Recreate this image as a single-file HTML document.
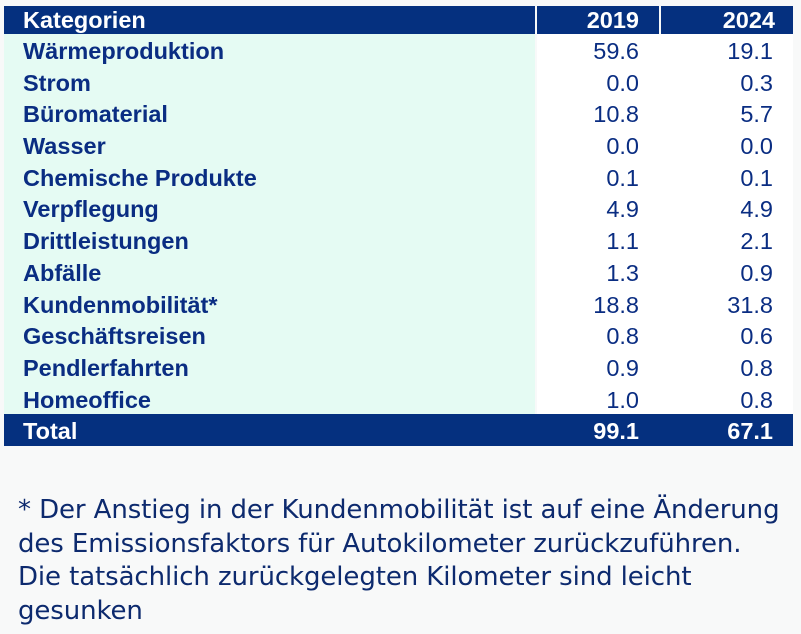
<!DOCTYPE html>
<html><head><meta charset="utf-8"><style>
body{margin:0;width:801px;height:634px;background:#f8f9f9;overflow:hidden;font-family:"Liberation Sans",Arial,sans-serif;position:relative}
.t{position:absolute;left:4px;top:6px;width:789px}
.r{position:relative;height:31.7px;display:flex;font-size:23.5px;line-height:35px;color:#0a2d82}
.r div{box-sizing:border-box}
.c1{width:531px;padding-left:19px;font-weight:bold;background:#e5fbf3}
.c2{width:122px;text-align:right;padding-right:20px;margin-left:2px;background:#fff}
.c3{width:134px;text-align:right;padding-right:20px;margin-left:0;background:#fff}
.h{height:28px;line-height:29px;color:#fff;font-weight:bold}
.h .c1,.h .c2,.h .c3{background:#05307f}
.h .c2{margin-left:2px}.h .c3{margin-left:2px;width:132px;padding-right:18px}
.tot{color:#fff;font-weight:bold;line-height:34px}
.tot div{background:#05307f!important;margin-left:0!important}
.tot .c2{width:124px}
.note{position:absolute;left:18px;top:494px;font-size:26px;line-height:33.5px;color:#0d2a6e;font-family:"DejaVu Sans","Liberation Sans",sans-serif;letter-spacing:-0.1px}
</style></head><body>
<div class="t">
<div class="r h"><div class="c1">Kategorien</div><div class="c2">2019</div><div class="c3">2024</div></div>
<div class="r"><div class="c1">Wärmeproduktion</div><div class="c2">59.6</div><div class="c3">19.1</div></div>
<div class="r"><div class="c1">Strom</div><div class="c2">0.0</div><div class="c3">0.3</div></div>
<div class="r"><div class="c1">Büromaterial</div><div class="c2">10.8</div><div class="c3">5.7</div></div>
<div class="r"><div class="c1">Wasser</div><div class="c2">0.0</div><div class="c3">0.0</div></div>
<div class="r"><div class="c1">Chemische Produkte</div><div class="c2">0.1</div><div class="c3">0.1</div></div>
<div class="r"><div class="c1">Verpflegung</div><div class="c2">4.9</div><div class="c3">4.9</div></div>
<div class="r"><div class="c1">Drittleistungen</div><div class="c2">1.1</div><div class="c3">2.1</div></div>
<div class="r"><div class="c1">Abfälle</div><div class="c2">1.3</div><div class="c3">0.9</div></div>
<div class="r"><div class="c1">Kundenmobilität*</div><div class="c2">18.8</div><div class="c3">31.8</div></div>
<div class="r"><div class="c1">Geschäftsreisen</div><div class="c2">0.8</div><div class="c3">0.6</div></div>
<div class="r"><div class="c1">Pendlerfahrten</div><div class="c2">0.9</div><div class="c3">0.8</div></div>
<div class="r"><div class="c1">Homeoffice</div><div class="c2">1.0</div><div class="c3">0.8</div></div>
<div class="r tot"><div class="c1">Total</div><div class="c2">99.1</div><div class="c3">67.1</div></div>
</div>
<div class="note">* Der Anstieg in der Kundenmobilität ist auf eine Änderung<br>des Emissionsfaktors für Autokilometer zurückzuführen.<br>Die tatsächlich zurückgelegten Kilometer sind leicht<br>gesunken</div>
</body></html>
